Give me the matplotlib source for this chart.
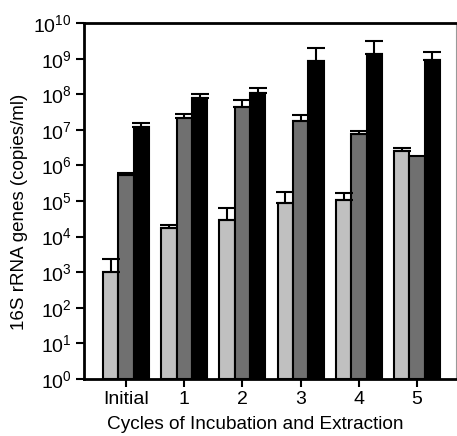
import matplotlib
matplotlib.use("Agg")
import matplotlib.pyplot as plt
import numpy as np

categories = ["Initial", "1", "2", "3", "4", "5"]
light_vals = [1.0e3, 1.75e4, 2.9e4, 8.7e4, 1.07e5, 2.5e6]
light_err_top = [2.3e3, 2.1e4, 6.3e4, 1.8e5, 1.7e5, 3.1e6]
dark_vals = [5.4e5, 2.1e7, 4.4e7, 1.8e7, 7.6e6, 1.8e6]
dark_err_top = [6.0e5, 2.8e7, 6.9e7, 2.6e7, 9.3e6, None]
black_vals = [1.2e7, 7.8e7, 1.07e8, 8.5e8, 1.35e9, 9.1e8]
black_err_top = [1.55e7, 1.0e8, 1.5e8, 2.0e9, 3.2e9, 1.55e9]

plt.rcParams["font.family"] = ["Liberation Sans", "DejaVu Sans"]
plt.rcParams["mathtext.fontset"] = "custom"
plt.rcParams["mathtext.rm"] = "Liberation Sans"
plt.rcParams["mathtext.default"] = "regular"

fig = plt.figure(figsize=(4.57, 4.36), dpi=100)
ax = fig.add_axes([0.184, 0.131, 0.814, 0.816])

x = np.arange(len(categories))
w = 0.263
series = [(light_vals, light_err_top, "#c0c0c0", -w),
          (dark_vals, dark_err_top, "#707070", 0.0),
          (black_vals, black_err_top, "#000000", w)]
for vals, errs, col, off in series:
    ax.bar(x + off, vals, width=w, color=col, edgecolor="black", linewidth=1.5,
           bottom=1, zorder=2)
    for xi, v, e in zip(x + off, vals, errs):
        if e is None:
            continue
        ax.errorbar(xi, v, yerr=[[0], [e - v]], fmt="none", ecolor="black",
                    elinewidth=1.5, capsize=6.5, capthick=1.5, zorder=3)

ax.set_yscale("log")
ax.set_ylim(1, 1e10)
ax.set_xlim(-0.72, 5.67)
ax.set_yticks([10.0**k for k in range(11)])
ax.set_yticklabels([f"$10^{{{k}}}$" for k in range(11)])
ax.minorticks_off()
ax.set_xticks(x)
ax.set_xticklabels(categories)
ax.tick_params(axis="both", which="major", direction="out", length=6, width=1.5,
               labelsize=14, colors="black")
ax.tick_params(axis="y", pad=3)
ax.tick_params(axis="x", pad=3)
for s in ["left", "bottom", "top"]:
    ax.spines[s].set_linewidth(2)
ax.spines["right"].set_linewidth(0.8)
ax.spines["right"].set_color("#999999")

ax.set_ylabel("16S rRNA genes (copies/ml)", fontsize=13.5)
ax.set_xlabel("Cycles of Incubation and Extraction", fontsize=13.7)
ax.yaxis.set_label_coords(-0.152, 0.469)
ax.xaxis.set_label_coords(0.461, -0.104)

fig.savefig("out.png", dpi=100)
